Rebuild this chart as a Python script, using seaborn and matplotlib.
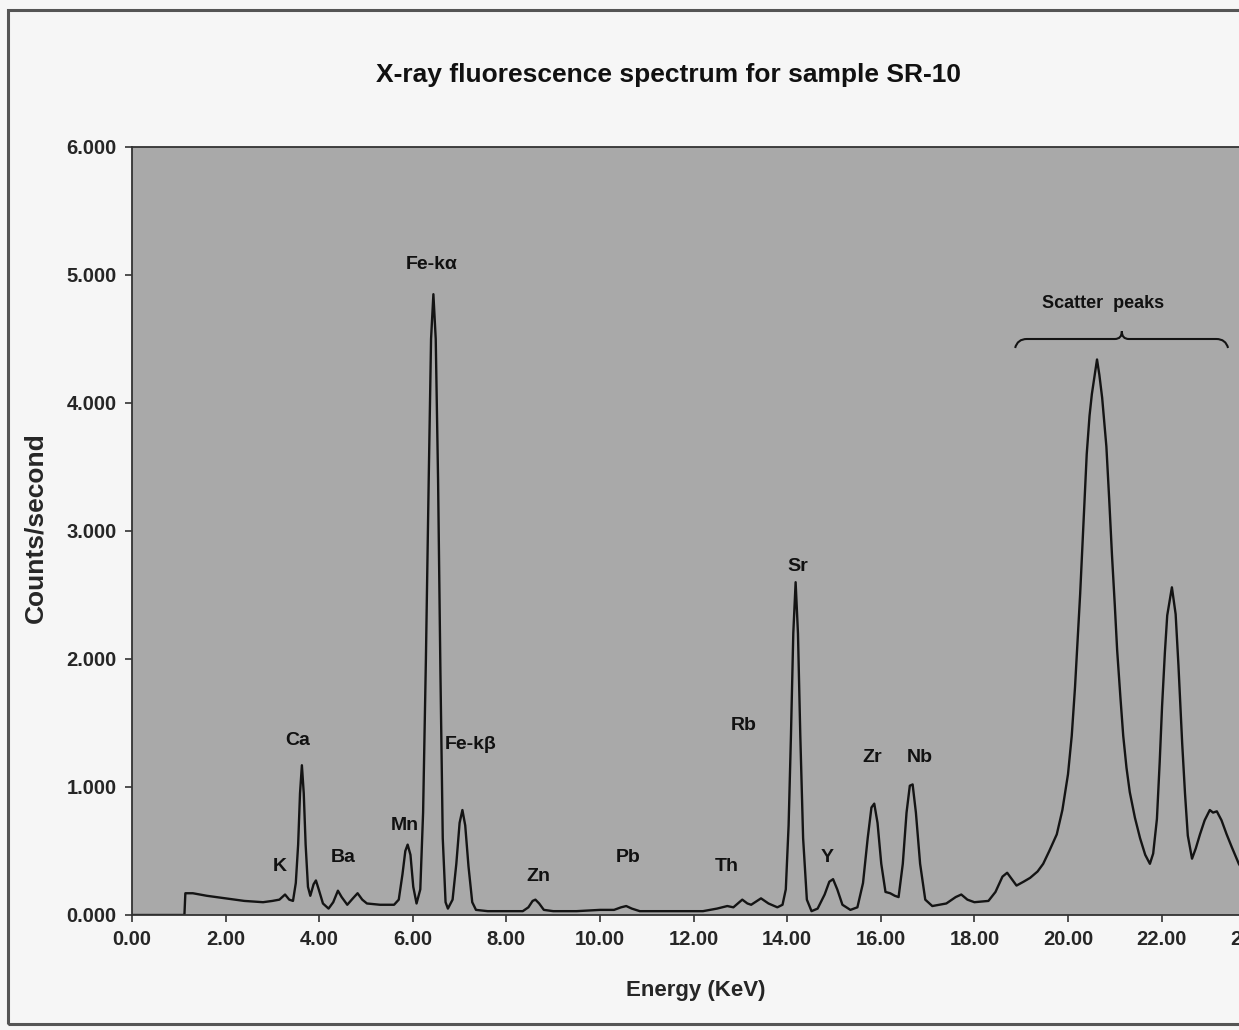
import matplotlib
matplotlib.use("Agg")
import matplotlib.pyplot as plt
import seaborn as sns
import pandas as pd
from matplotlib.path import Path
from matplotlib.patches import PathPatch, Rectangle

# ---- data ----
energy_kev = [
    0.00, 1.12, 1.14, 1.30, 1.60, 2.00, 2.40, 2.80, 3.00, 3.15, 3.27, 3.36, 3.44,
    3.50, 3.55, 3.59, 3.63, 3.67, 3.71, 3.76, 3.81,
    3.88, 3.93, 3.99, 4.08, 4.20, 4.30, 4.40, 4.48, 4.60, 4.72, 4.82, 4.92, 5.02, 5.30, 5.60,
    5.70, 5.78, 5.84, 5.89, 5.95, 6.01, 6.08,
    6.16, 6.22, 6.28, 6.34, 6.39, 6.44, 6.49, 6.54, 6.59, 6.64, 6.70, 6.75,
    6.85, 6.93, 7.00, 7.06, 7.12, 7.19, 7.27, 7.35,
    7.60, 8.00, 8.35, 8.47, 8.56, 8.62, 8.70, 8.80, 9.00, 9.50, 10.00, 10.30, 10.45, 10.56,
    10.68, 10.85, 11.50, 12.20, 12.50, 12.72, 12.85, 13.04, 13.15, 13.23, 13.44, 13.60,
    13.79, 13.90,
    13.97, 14.03, 14.08, 14.13, 14.18, 14.23, 14.28, 14.34, 14.42, 14.52, 14.65,
    14.80, 14.90, 14.98, 15.07, 15.18, 15.35, 15.50,
    15.62, 15.72, 15.80, 15.86, 15.93, 16.01, 16.10, 16.20, 16.30, 16.38,
    16.47, 16.55, 16.62, 16.68, 16.75, 16.84, 16.95, 17.10, 17.40, 17.60, 17.72, 17.85,
    18.00, 18.30, 18.45, 18.60, 18.70, 18.80, 18.90, 19.05, 19.19, 19.35, 19.47, 19.60,
    19.76, 19.88, 20.00, 20.08, 20.15, 20.26, 20.33, 20.40, 20.46, 20.51, 20.57, 20.62,
    20.67, 20.73, 20.82, 20.88, 20.94, 21.00, 21.05, 21.12, 21.18, 21.25, 21.32, 21.43,
    21.54, 21.65, 21.75, 21.82, 21.90, 21.96, 22.01, 22.07, 22.12, 22.22, 22.30, 22.36,
    22.44, 22.50, 22.56, 22.65, 22.73, 22.82, 22.92, 23.03, 23.10, 23.18, 23.28, 23.39,
    23.50, 23.65, 23.75,
]
counts_per_second = [
    0.00, 0.00, 0.17, 0.17, 0.15, 0.13, 0.11, 0.10, 0.11, 0.12, 0.16, 0.12, 0.11,
    0.25, 0.55, 0.95, 1.17, 0.95, 0.55, 0.22, 0.15,
    0.24, 0.27, 0.20, 0.09, 0.05, 0.10, 0.19, 0.14, 0.08, 0.13, 0.17, 0.12, 0.09, 0.08, 0.08,
    0.12, 0.32, 0.50, 0.55, 0.47, 0.22, 0.09,
    0.20, 0.80, 2.00, 3.40, 4.50, 4.85, 4.50, 3.40, 1.90, 0.60, 0.10, 0.05,
    0.12, 0.40, 0.72, 0.82, 0.70, 0.38, 0.10, 0.04,
    0.03, 0.03, 0.03, 0.06, 0.11, 0.12, 0.09, 0.04, 0.03, 0.03, 0.04, 0.04, 0.06, 0.07,
    0.05, 0.03, 0.03, 0.03, 0.05, 0.07, 0.06, 0.12, 0.09, 0.08, 0.13, 0.09,
    0.06, 0.08,
    0.20, 0.70, 1.40, 2.20, 2.60, 2.20, 1.40, 0.60, 0.12, 0.03, 0.05,
    0.16, 0.26, 0.28, 0.20, 0.08, 0.04, 0.06,
    0.25, 0.60, 0.84, 0.87, 0.72, 0.40, 0.18, 0.17, 0.15, 0.14,
    0.40, 0.80, 1.01, 1.02, 0.80, 0.40, 0.12, 0.07, 0.09, 0.14, 0.16, 0.12,
    0.10, 0.11, 0.18, 0.30, 0.33, 0.28, 0.23, 0.26, 0.29, 0.34, 0.40, 0.50,
    0.63, 0.82, 1.10, 1.40, 1.78, 2.51, 3.05, 3.60, 3.90, 4.07, 4.22, 4.34,
    4.22, 4.04, 3.66, 3.25, 2.81, 2.42, 2.07, 1.70, 1.40, 1.15, 0.96, 0.76,
    0.60, 0.47, 0.40, 0.48, 0.75, 1.20, 1.63, 2.05, 2.34, 2.56, 2.35, 1.95,
    1.34, 0.95, 0.62, 0.44, 0.52, 0.63, 0.74, 0.82, 0.80, 0.81, 0.74, 0.63,
    0.53, 0.40, 0.34,
]

peak_labels = ["K", "Ca", "Ba", "Mn", "Fe-k\u03b1", "Fe-k\u03b2", "Zn", "Pb",
               "Th", "Rb", "Sr", "Y", "Zr", "Nb"]
label_energy = [3.16, 3.55, 4.51, 5.83, 6.41, 7.24, 8.68, 10.60,
                12.71, 13.06, 14.23, 14.85, 15.81, 16.84]
label_height = [0.38, 1.36, 0.45, 0.70, 5.08, 1.33, 0.30, 0.45,
                0.38, 1.48, 2.72, 0.45, 1.23, 1.23]

x_ticks = [0, 2, 4, 6, 8, 10, 12, 14, 16, 18, 20, 22, 24]
y_ticks = [0, 1, 2, 3, 4, 5, 6]

df = pd.DataFrame({"Energy (KeV)": energy_kev, "Counts/second": counts_per_second})

# ---- style ----
sns.set_style("ticks")
plt.rcParams["font.family"] = ["Liberation Sans", "DejaVu Sans"]
plt.rcParams["font.weight"] = "bold"

fig = plt.figure(figsize=(12.39, 10.30), dpi=100, facecolor="#f6f6f6")
W, H = 1239.0, 1030.0
left_px, bottom_px, top_px = 132.0, 915.0, 147.0
xmax = 24.5
px_per_kev = 46.8
right_px = left_px + px_per_kev * xmax
ax = fig.add_axes([left_px / W, 1 - bottom_px / H,
                   (right_px - left_px) / W, (bottom_px - top_px) / H])
ax.set_facecolor("#a9a9a9")

sns.lineplot(data=df, x="Energy (KeV)", y="Counts/second", ax=ax,
             color="#141414", linewidth=1.7, sort=False, estimator=None)

ax.set_xlim(0, xmax)
ax.set_ylim(0, 6)
ax.set_xticks(x_ticks)
ax.set_yticks(y_ticks)
ax.set_xticklabels([f"{v:.2f}" for v in x_ticks], fontsize=14.5, fontweight="bold")
ax.set_yticklabels([f"{v:.3f}" for v in y_ticks], fontsize=14.5, fontweight="bold")
ax.tick_params(direction="out", length=5, width=1.2, color="#333333", pad=6)

for s in ax.spines.values():
    s.set_color("#333333")
    s.set_linewidth(1.3)

ax.set_xlabel("Energy (KeV)", fontsize=16, fontweight="bold")
ax.set_ylabel("Counts/second", fontsize=19, fontweight="bold")
ax.xaxis.set_label_coords((696 - left_px) / (right_px - left_px), -0.085)
ax.yaxis.set_label_coords((47 - left_px) / (right_px - left_px), 0.504)

for lab, ex, ey in zip(peak_labels, label_energy, label_height):
    ax.text(ex, ey, lab, ha="center", va="center", fontsize=14,
            fontweight="bold", color="#111111")

ax.text(20.75, 4.78, "Scatter  peaks", ha="center", va="center",
        fontsize=13, fontweight="bold", color="#111111")

# curly brace over the scatter peaks
bx0, bxm, bx1 = 18.87, 21.15, 23.42
by_end, by_mid, by_tip = 4.43, 4.50, 4.56
verts = [(bx0, by_end), (bx0 + 0.05, by_mid), (bx0 + 0.25, by_mid),
         (bxm - 0.15, by_mid),
         (bxm, by_mid), (bxm, by_tip),
         (bxm, by_mid), (bxm + 0.15, by_mid),
         (bx1 - 0.25, by_mid),
         (bx1 - 0.05, by_mid), (bx1, by_end)]
codes = [Path.MOVETO, Path.CURVE3, Path.CURVE3,
         Path.LINETO,
         Path.CURVE3, Path.CURVE3,
         Path.CURVE3, Path.CURVE3,
         Path.LINETO,
         Path.CURVE3, Path.CURVE3]
ax.add_patch(PathPatch(Path(verts, codes), facecolor="none",
                       edgecolor="#141414", linewidth=1.5))

fig.text(668 / W, 1 - 75 / H, "X-ray fluorescence spectrum for sample SR-10",
         ha="center", va="center", fontsize=19, fontweight="bold", color="#111111")

# outer frame of the scanned chart
fig.patches.append(Rectangle((8 / W, 1 - 1024 / H), 1.2, (1024 - 10) / H,
                             transform=fig.transFigure, fill=False,
                             edgecolor="#555555", linewidth=2.2))

fig.savefig("out.png", dpi=100, facecolor=fig.get_facecolor())
